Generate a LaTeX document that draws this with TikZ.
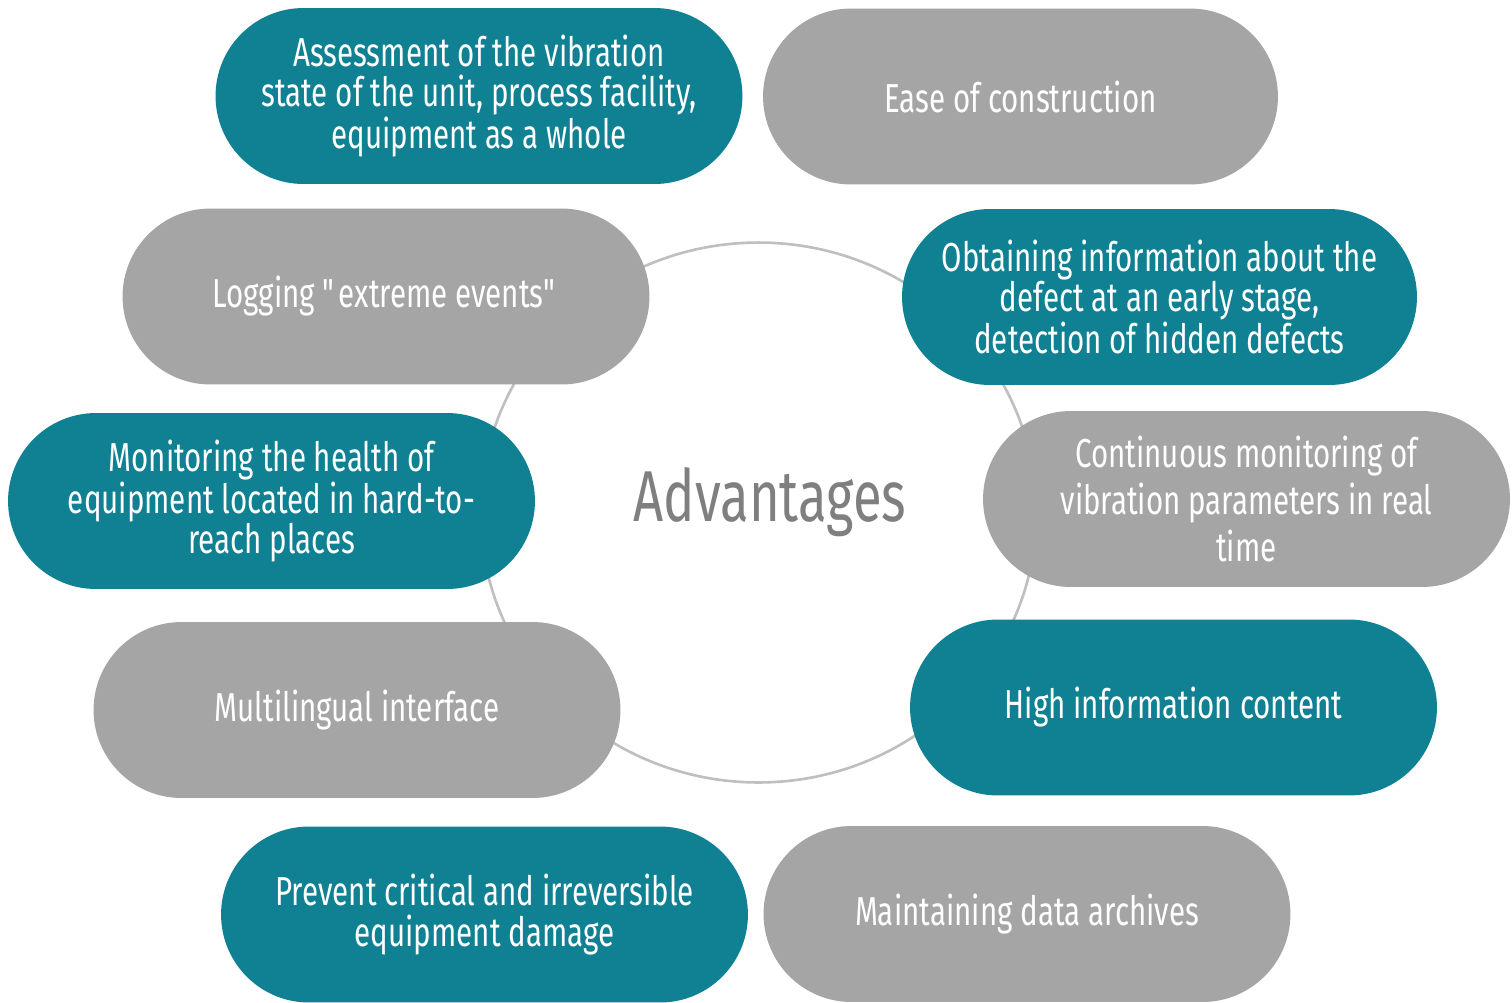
\documentclass[tikz,border=0pt]{standalone}
\usepackage{fontspec}
\setmainfont[FakeStretch=0.73]{Fira Sans}
\usetikzlibrary{shapes.misc}
\definecolor{p1}{HTML}{0F8193}
\definecolor{p2}{HTML}{A5A5A5}
\definecolor{pag}{HTML}{7F7F7F}
\definecolor{ring}{HTML}{BFBFBF}
\tikzset{
  pill/.style={rounded rectangle, minimum width=10.54cm, minimum height=3.52cm,
    inner sep=0pt, align=center, text=white, font=\fontsize{23}{22.4}\selectfont},
  short/.style={minimum width=10.3cm}
}

\begin{document}
\begin{tikzpicture}[x=0.02cm,y=-0.02cm]
  \useasboundingbox (0,0) rectangle (1512,1002);

  \draw[ring, line width=1.5pt] (758.5,512.5) ellipse (5.56cm and 5.4cm);
  \node[text=pag, font=\fontsize{41}{43}\selectfont] (adv) at (770,502) {Advantages};

  \node[pill, fill=p1] (assess) at (479,96)
    {Assessment of the vibration\\state of the unit, process facility,\\equipment as a whole};
  \node[pill, short, fill=p2] (ease) at (1020.5,96.5) {Ease of construction};

  \node[pill, fill=p2] (logging) at (386,296.5) {Logging \textquotedbl{}extreme events\textquotedbl};
  \node[pill, short, fill=p1] (obtain) at (1159.5,297)
    {Obtaining information about the\\defect at an early stage,\\detection of hidden defects};

  \node[pill, fill=p1] (health) at (271.5,501)
    {Monitoring the health of\\equipment located in hard-to-\\reach places};
  \node[pill, fill=p2, font=\fontsize{23}{26.5}\selectfont] (contin) at (1246.5,499)
    {Continuous monitoring of\\vibration parameters in real\\time};

  \node[pill, fill=p2] (multi) at (357,710) {Multilingual interface};
  \node[pill, fill=p1] (info) at (1173.5,707.5) {High information content};

  \node[pill, fill=p1, font=\fontsize{23}{23.6}\selectfont] (prevent) at (484.5,914.5)
    {Prevent critical and irreversible\\equipment damage};
  \node[pill, fill=p2] (archive) at (1027,914) {Maintaining data archives};
\end{tikzpicture}
\end{document}
